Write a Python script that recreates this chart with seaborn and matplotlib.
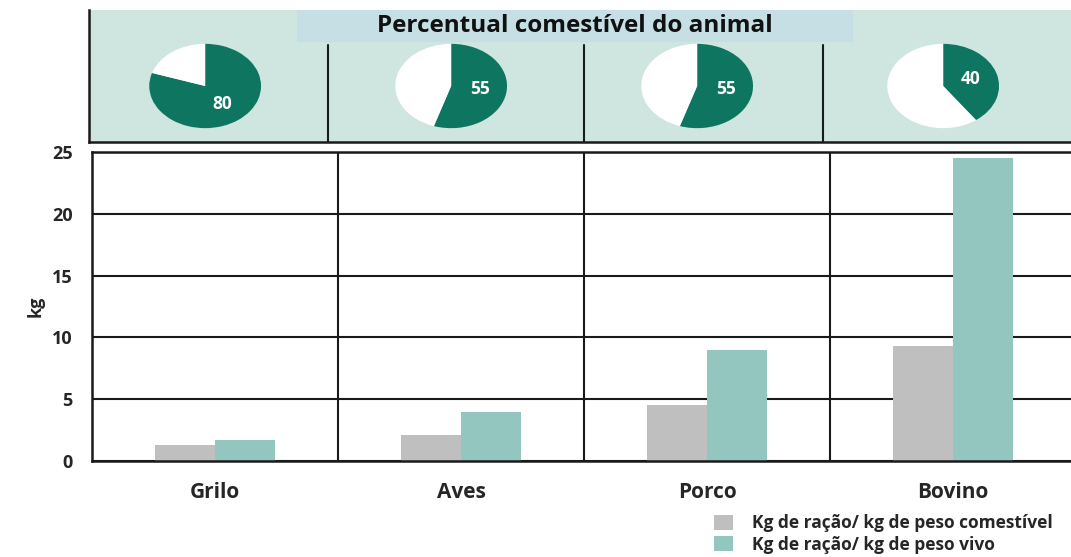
import numpy as np
import pandas as pd
import matplotlib
matplotlib.use("Agg")
import matplotlib.pyplot as plt
import seaborn as sns
from matplotlib.patches import Rectangle

# Data
animais = ["Grilo", "Aves", "Porco", "Bovino"]
racao_comestivel = [1.3, 2.1, 4.5, 9.3]
racao_vivo = [1.7, 4.0, 9.0, 24.5]
percentual_comestivel = [80, 55, 55, 40]
series = ["Kg de ração/ kg de peso comestível", "Kg de ração/ kg de peso vivo"]
y_ticks = [0, 5, 10, 15, 20, 25]
titulo = "Percentual comestível do animal"

# Colours
cinza = "#bfbfbf"
turquesa = "#93c6bf"
verde = "#0e7660"
fundo_topo = "#cfe5e0"
fundo_titulo = "#c5dfe5"

sns.set_theme(style="white")
plt.rcParams["font.family"] = ["Open Sans", "DejaVu Sans"]
plt.rcParams["font.weight"] = "bold"

W, H = 1071, 557
fig = plt.figure(figsize=(W / 100, H / 100), dpi=100)
fig.patch.set_facecolor("white")


def box(x0, y0, x1, y1):
    """Pixel box (origin top-left) -> figure fraction rect."""
    return [x0 / W, 1 - y1 / H, (x1 - x0) / W, (y1 - y0) / H]


UNIT = 246.0  # pixels per category step
X_LEFT, X_RIGHT = -0.5, -0.5 + (1071 - 92) / UNIT

# ---- bar panel ----
ax = fig.add_axes(box(92, 152, 1071, 461))
df = pd.DataFrame({
    "animal": animais * 2,
    "serie": [series[0]] * len(animais) + [series[1]] * len(animais),
    "kg": racao_comestivel + racao_vivo,
})
sns.barplot(data=df, x="animal", y="kg", hue="serie", order=animais,
            hue_order=series, palette=[cinza, turquesa], width=0.49, gap=0,
            saturation=1, errorbar=None, linewidth=0, ax=ax)
ax.set_axisbelow(True)
ax.yaxis.grid(True, color="#1a1a1a", lw=1.5)
ax.xaxis.grid(False)
ax.set_xlim(X_LEFT, X_RIGHT)
ax.set_ylim(0, 25)
ax.set_yticks(y_ticks)
for xv in np.arange(len(animais) - 1) + 0.5:
    ax.axvline(xv, color="#1a1a1a", lw=1.5, zorder=0.6)
for s in ["left", "bottom", "top"]:
    ax.spines[s].set_visible(True)
    ax.spines[s].set_color("#1a1a1a")
    ax.spines[s].set_linewidth(1.8)
ax.spines["right"].set_visible(False)
ax.tick_params(axis="y", length=0, pad=14, labelsize=13)
ax.tick_params(axis="x", length=0, pad=15, labelsize=15)
ax.set_xlabel("")
ax.set_ylabel("kg", fontsize=13, fontweight="bold", labelpad=5)

handles, labels = ax.get_legend_handles_labels()
ax.legend_.remove()
fig.legend(handles, labels, loc="upper left",
           bbox_to_anchor=(714 / W, 1 - 514 / H), frameon=False,
           fontsize=12.5, handlelength=1.1, handleheight=0.95,
           handletextpad=1.1, labelspacing=0.22, borderpad=0,
           borderaxespad=0)

# ---- top panel with edible percentage pies ----
axt = fig.add_axes(box(89, 10, 1071, 142))
axt.set_facecolor(fundo_topo)
axt.set_xlim(X_LEFT - 3 / UNIT, X_RIGHT)
axt.set_ylim(0, 1)
axt.set_xticks([])
axt.set_yticks([])
for s in ["top", "right"]:
    axt.spines[s].set_visible(False)
for s in ["left", "bottom"]:
    axt.spines[s].set_visible(True)
    axt.spines[s].set_color("#1a1a1a")
    axt.spines[s].set_linewidth(1.8)

axt.add_patch(Rectangle((0.333, 0.758), 2.26, 0.242, facecolor=fundo_titulo,
                        edgecolor="none", zorder=1))
axt.text(1.463, 0.875, titulo, ha="center", va="center", fontsize=17.5,
         fontweight="bold", color="#111111", zorder=2)

for xv in [0.46, 1.5, 2.47]:
    axt.plot([xv, xv], [0, 0.735], color="#1a1a1a", lw=1.5, zorder=2)

pie_w, pie_h = 114 / UNIT, 86 / 132
pie_cy = 1 - 76 / 132
for i, pct in enumerate(percentual_comestivel):
    pax = axt.inset_axes([i - 0.04 - pie_w / 2, pie_cy - pie_h / 2, pie_w, pie_h],
                         transform=axt.transData)
    pax.pie(
        [pct, 100 - pct], colors=[verde, "white"], startangle=90,
        counterclock=False, radius=1, wedgeprops=dict(linewidth=0),
        autopct=lambda p, v=pct: f"{p:.0f}" if round(p) == v else "",
        pctdistance=0.52,
        textprops=dict(color="white", fontsize=12.5, fontweight="bold"))
    pax.set_aspect("auto")
    pax.set_xlim(-1.02, 1.02)
    pax.set_ylim(-1.02, 1.02)
    pax.axis("off")

fig.savefig("out.png", dpi=100, facecolor="white")
